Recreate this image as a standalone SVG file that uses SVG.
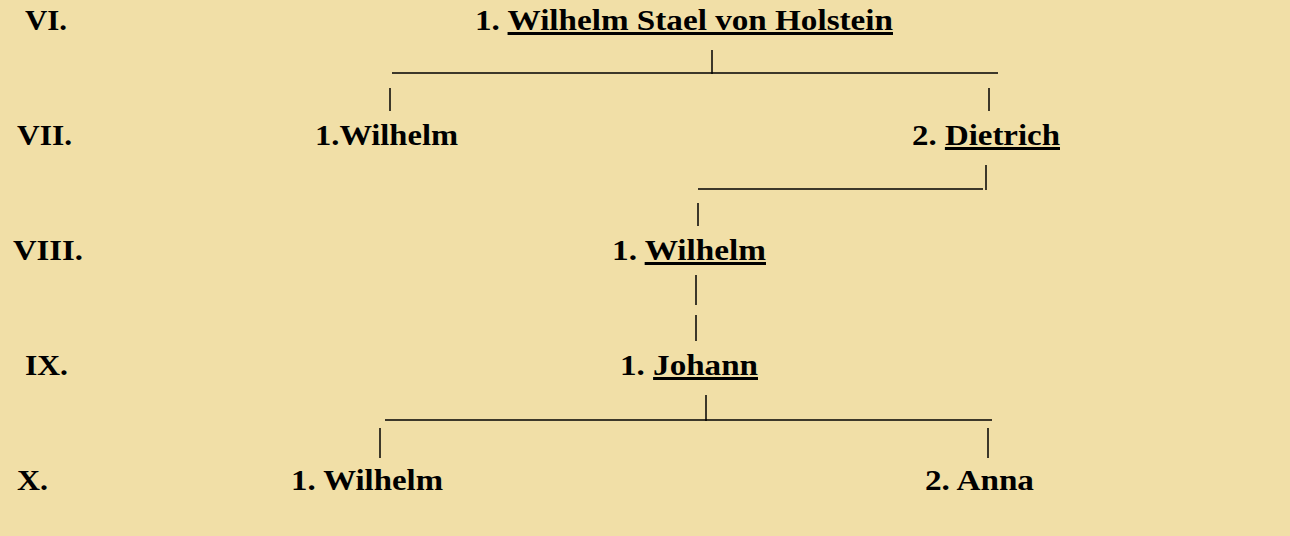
<svg xmlns="http://www.w3.org/2000/svg" width="1290" height="536" viewBox="0 0 1290 536">
<style>
text{font-family:"Liberation Serif","Times New Roman",serif;font-weight:bold;font-size:30px;fill:#000}
.u{text-decoration:underline}
line{stroke:#000;stroke-width:1.5}
</style>
<rect width="1290" height="536" fill="#F1DFA7"/>
<g id="gen-labels">
<text x="25" y="30" textLength="42" lengthAdjust="spacingAndGlyphs">VI.</text>
<text x="17" y="145" textLength="55" lengthAdjust="spacingAndGlyphs">VII.</text>
<text x="13" y="260" textLength="70" lengthAdjust="spacingAndGlyphs">VIII.</text>
<text x="25" y="375" textLength="43" lengthAdjust="spacingAndGlyphs">IX.</text>
<text x="17" y="490" textLength="31" lengthAdjust="spacingAndGlyphs">X.</text>
</g>
<g id="n-wilhelm-stael"><text x="475" y="30" textLength="418" lengthAdjust="spacingAndGlyphs">1. <tspan class="u">Wilhelm Stael von Holstein</tspan></text></g>
<g id="n-wilhelm-vii"><text x="315" y="145" textLength="143" lengthAdjust="spacingAndGlyphs">1.Wilhelm</text></g>
<g id="n-dietrich"><text x="912" y="145" textLength="148" lengthAdjust="spacingAndGlyphs">2. <tspan class="u">Dietrich</tspan></text></g>
<g id="n-wilhelm-viii"><text x="612" y="260" textLength="154" lengthAdjust="spacingAndGlyphs">1. <tspan class="u">Wilhelm</tspan></text></g>
<g id="n-johann"><text x="620" y="375" textLength="138" lengthAdjust="spacingAndGlyphs">1. <tspan class="u">Johann</tspan></text></g>
<g id="n-wilhelm-x"><text x="291" y="490" textLength="152" lengthAdjust="spacingAndGlyphs">1. Wilhelm</text></g>
<g id="n-anna"><text x="925" y="490" textLength="109" lengthAdjust="spacingAndGlyphs">2. Anna</text></g>
<g id="connectors">
<line x1="392" y1="73" x2="998" y2="73"/>
<line x1="712" y1="50" x2="712" y2="74"/>
<line x1="390" y1="88" x2="390" y2="111"/>
<line x1="989" y1="88" x2="989" y2="111"/>
<line x1="698" y1="189" x2="983" y2="189"/>
<line x1="986" y1="165" x2="986" y2="190"/>
<line x1="698" y1="203" x2="698" y2="226"/>
<line x1="696" y1="275" x2="696" y2="305"/>
<line x1="696" y1="315" x2="696" y2="341"/>
<line x1="385" y1="420" x2="992" y2="420"/>
<line x1="706" y1="395" x2="706" y2="421"/>
<line x1="380" y1="428" x2="380" y2="458"/>
<line x1="988" y1="428" x2="988" y2="458"/>
</g>
</svg>
